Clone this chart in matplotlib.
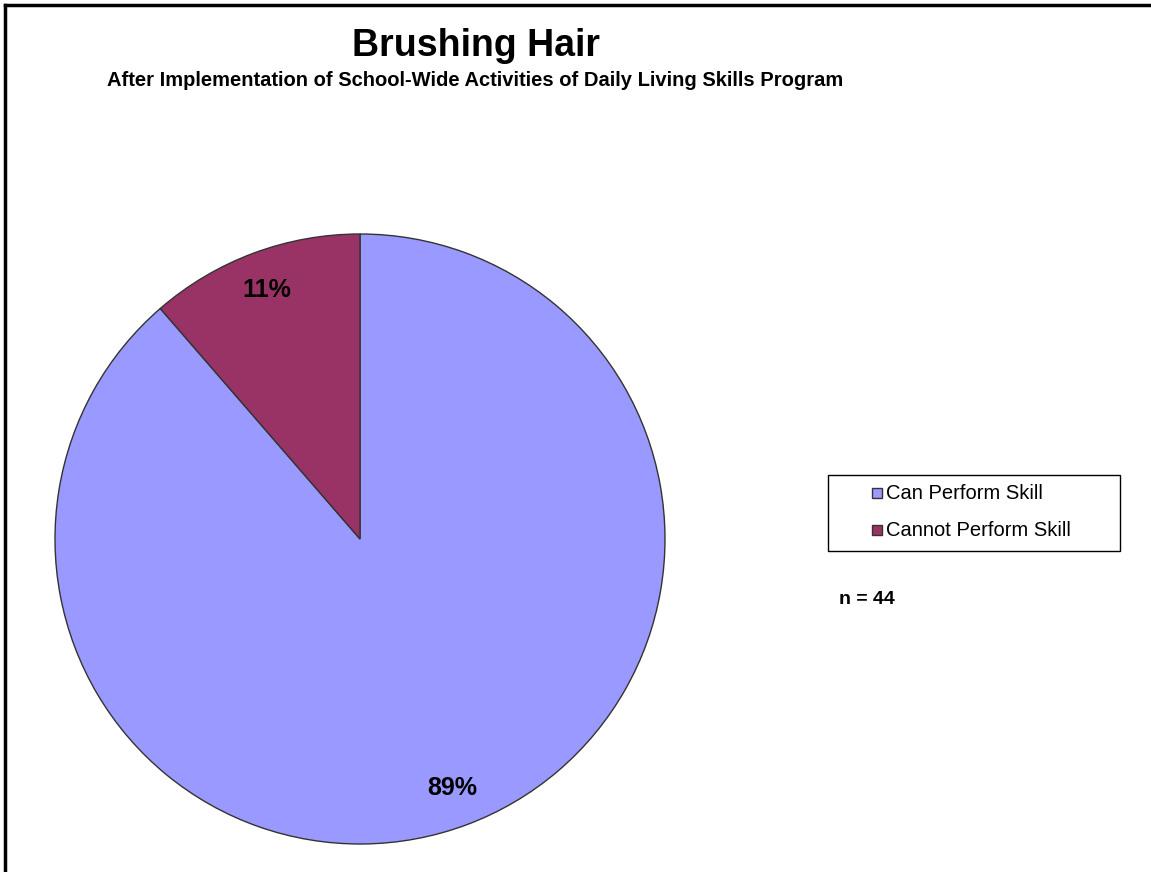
import matplotlib
matplotlib.use('Agg')
import matplotlib.pyplot as plt
from matplotlib.lines import Line2D
from matplotlib.patches import Rectangle

# Data
labels = ['Can Perform Skill', 'Cannot Perform Skill']
counts = [39, 5]
colors = ['#9999FF', '#993366']
n_total = 44

plt.rcParams['font.family'] = ['Liberation Sans', 'DejaVu Sans']

W, H = 1151, 872
fig = plt.figure(figsize=(W / 100, H / 100), dpi=100)


def fx(px):
    return px / W


def fy(py):
    return 1 - py / H


# Pie axes placed in pixel terms
cx, cy, r = 360, 539, 305
ax = fig.add_axes([(cx - r) / W, (H - cy - r) / H, 2 * r / W, 2 * r / H])
wedges, texts, autotexts = ax.pie(
    counts, colors=colors, startangle=90, counterclock=False,
    autopct='%.0f%%', pctdistance=0.87,
    wedgeprops=dict(edgecolor='#333333', linewidth=1.0),
    textprops=dict(fontsize=18, fontweight='bold', color='black'))
ax.set_xlim(-1, 1)
ax.set_ylim(-1, 1)
ax.set_aspect('equal')

# Titles
fig.text(fx(476), fy(46), 'Brushing Hair', ha='center', va='center',
         fontsize=27, fontweight='bold')
fig.text(fx(475), fy(81),
         'After Implementation of School-Wide Activities of Daily Living Skills Program',
         ha='center', va='center', fontsize=14.5, fontweight='bold')

# Legend (drawn by hand to match the box proportions)
fig.add_artist(Rectangle((fx(828), fy(551)), fx(1120) - fx(828), fy(475) - fy(551),
                         transform=fig.transFigure, facecolor='white',
                         edgecolor='black', linewidth=1.0))
row_y = [493, 530]
for lab, col, yy in zip(labels, colors, row_y):
    fig.add_artist(Line2D([fx(877)], [fy(yy)], marker='s', linestyle='none',
                          markersize=7, markerfacecolor=col,
                          markeredgecolor='#333333', markeredgewidth=1))
    fig.text(fx(886), fy(yy), lab, ha='left', va='center', fontsize=14.5)

fig.text(fx(839), fy(600), f'n = {n_total}', ha='left', va='center',
         fontsize=14, fontweight='bold')

# Border on left and top
fig.add_artist(Line2D([fx(5), fx(5)], [0, fy(5)], color='black', linewidth=2.5))
fig.add_artist(Line2D([fx(5), 1], [fy(5), fy(5)], color='black', linewidth=2.5))

fig.savefig('out.png', dpi=100)
